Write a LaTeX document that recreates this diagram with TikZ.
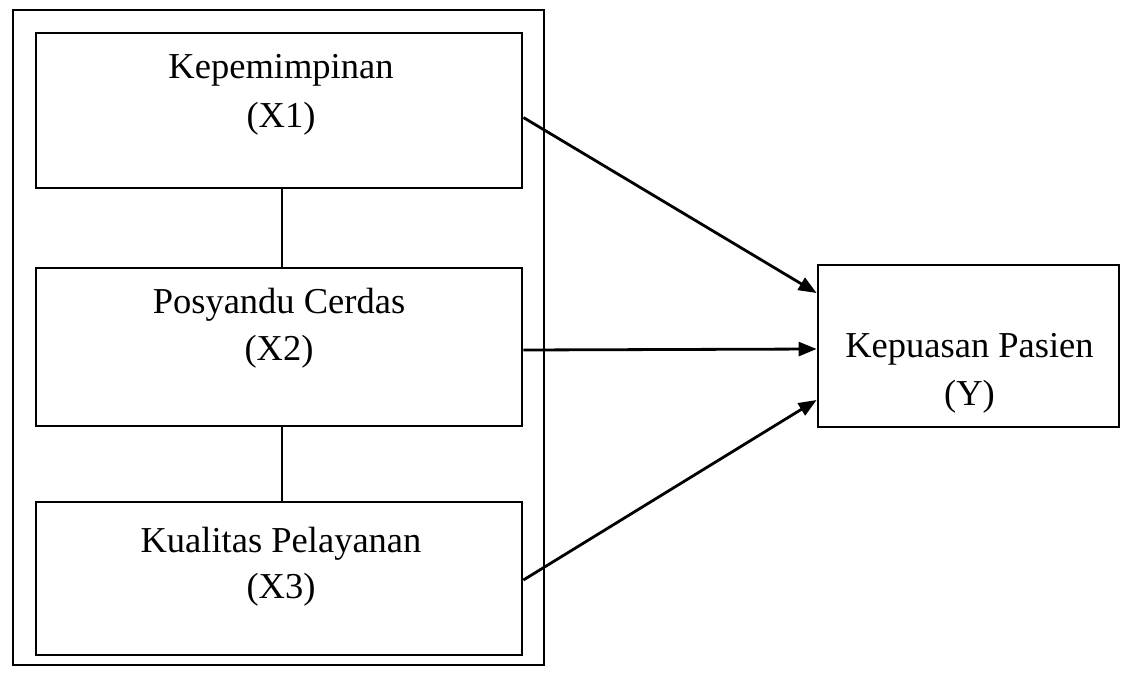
\documentclass[tikz,border=0pt]{standalone}
\usepackage{fontspec}
\setmainfont{Liberation Serif}
\usetikzlibrary{arrows.meta,calc}
\begin{document}
\begin{tikzpicture}[x=1pt,y=-1pt,
  box/.style={draw,line width=2.8pt,inner sep=0pt,fill=none},
  lbl/.style={anchor=base,inner sep=0pt,font=\fontsize{36.5}{44}\selectfont},
  conn/.style={line width=2.8pt},
  arr/.style={line width=2.8pt,-{Triangle[length=18pt,width=14pt]}}]
\useasboundingbox (0,0) rectangle (1121,672);
% outer frame
\node[box,minimum width=531pt,minimum height=655pt] (outer) at (278.5,337.5) {};
% boxes
\node[box,minimum width=486pt,minimum height=155pt] (x1) at (279,110.5) {};
\node[box,minimum width=486pt,minimum height=158pt] (x2) at (279,347) {};
\node[box,minimum width=486pt,minimum height=153pt] (x3) at (279,578.5) {};
\node[box,minimum width=301pt,minimum height=162pt] (y) at (968.5,346) {};
% texts
\node[lbl] (x1a) at (281,78) {Kepemimpinan};
\node[lbl] (x1b) at (281,127) {(X1)};
\node[lbl] (x2a) at (279,313) {Posyandu Cerdas};
\node[lbl] (x2b) at (279,360) {(X2)};
\node[lbl] (x3a) at (281,552) {Kualitas Pelayanan};
\node[lbl] (x3b) at (281,598) {(X3)};
\node[lbl] (ya) at (969.5,357) {Kepuasan Pasien};
\node[lbl] (yb) at (969.5,405) {(Y)};
% vertical links
\draw[conn] ([xshift=3pt]x1.south) -- ([xshift=3pt]x2.north);
\draw[conn] ([xshift=3pt]x2.south) -- ([xshift=3pt]x3.north);
% arrows
\draw[arr] ([yshift=-7pt]x1.east) -- ([yshift=53pt]y.west);
\draw[arr] ([yshift=-3pt]x2.east) -- ([yshift=-3pt]y.west);
\draw[arr] ([yshift=-1.5pt]x3.east) -- ([yshift=-54pt]y.west);
\end{tikzpicture}
\end{document}
